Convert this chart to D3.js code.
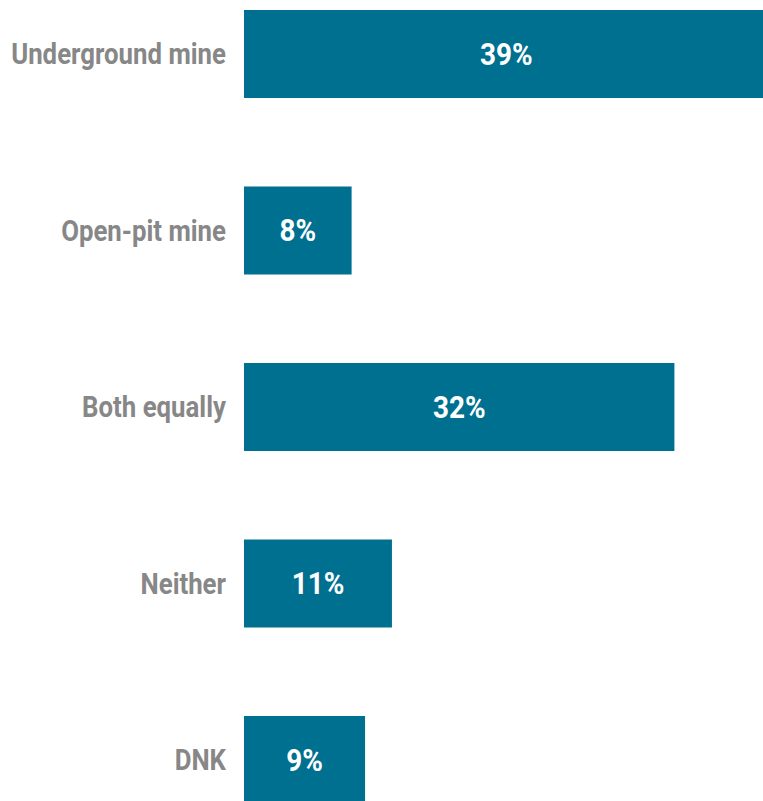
<!DOCTYPE html>
<html><head><meta charset="utf-8">
<script src="https://cdn.jsdelivr.net/npm/d3@7"></script>
<style>body{margin:0;background:#fff}svg{display:block}</style>
</head><body>
<script>
const categories = ["Underground mine","Open-pit mine","Both equally","Neither","DNK"];
const values = [39, 8, 32, 11, 9];
const valueLabels = ["39%","8%","32%","11%","9%"];

const W = 763, H = 801;
const svg = d3.select("body").append("svg").attr("width", W).attr("height", H);
const x = d3.scaleLinear().domain([0, 40]).range([244, 782]);
const y = d3.scaleBand().domain(categories).range([10, 804]).paddingInner(0.5014).paddingOuter(0);
const font = "Roboto, 'Liberation Sans', sans-serif";

svg.selectAll("rect.bar").data(categories).join("rect")
  .attr("class","bar")
  .attr("x", x(0)).attr("y", d => y(d))
  .attr("width", (d,i) => x(values[i]) - x(0))
  .attr("height", y.bandwidth())
  .attr("fill", "#007090");

svg.selectAll("text.cat").data(categories).join("text")
  .attr("class","cat")
  .attr("transform", d => `translate(226,${y(d) + y.bandwidth()/2}) scale(0.86,1)`)
  .attr("text-anchor","end").attr("dominant-baseline","central")
  .attr("font-family", font).attr("font-weight","bold").attr("font-size", 30)
  .attr("fill", "#878787")
  .text(d => d);

svg.selectAll("text.val").data(categories).join("text")
  .attr("class","val")
  .attr("transform", (d,i) => `translate(${(x(0)+x(values[i]))/2},${y(d) + y.bandwidth()/2}) scale(0.9,1)`)
  .attr("text-anchor","middle").attr("dominant-baseline","central")
  .attr("font-family", font).attr("font-weight","bold").attr("font-size", 31)
  .attr("fill", "#fff")
  .text((d,i) => valueLabels[i]);
</script>
</body></html>
